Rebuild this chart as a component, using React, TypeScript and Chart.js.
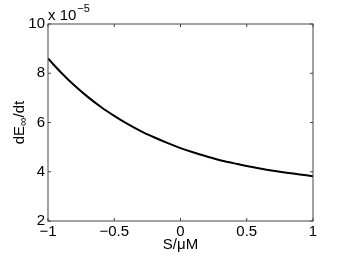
import React, { useEffect, useRef } from 'react';
import { Chart, registerables } from 'chart.js';

Chart.register(...registerables);

const xValues = [-1, -0.9, -0.8, -0.7, -0.6, -0.5, -0.4, -0.3, -0.2, -0.1, 0, 0.1, 0.2, 0.3, 0.4, 0.5, 0.6, 0.7, 0.8, 0.9, 1];
const yValues = [8.6, 8.02, 7.5, 7.04, 6.63, 6.27, 5.94, 5.65, 5.4, 5.17, 4.96, 4.78, 4.62, 4.47, 4.35, 4.23, 4.13, 4.04, 3.96, 3.89, 3.82];
const xTicks = [-1, -0.5, 0, 0.5, 1];
const yTicks = [2, 4, 6, 8, 10];
const xTitle = 'S/\u03bcM';
const yTitleMain = 'dE';
const yTitleSub = '\u221e';
const yTitleEnd = '/dt';
const exponentBase = 'x 10';
const exponentPower = '\u22125';

const FONT = '"Liberation Sans", Arial, Helvetica, sans-serif';

const fmt = (v: number) => (v < 0 ? '\u2212' + String(Math.abs(v)) : String(v));

const decor = {
  id: 'decor',
  afterDraw(chart: any) {
    const { ctx, chartArea: a, scales } = chart;
    ctx.save();
    ctx.strokeStyle = '#444';
    ctx.lineWidth = 1;
    ctx.strokeRect(a.left, a.top, a.right - a.left, a.bottom - a.top);
    const tl = 3;
    ctx.beginPath();
    xTicks.forEach((v) => {
      const px = scales.x.getPixelForValue(v);
      ctx.moveTo(px, a.bottom);
      ctx.lineTo(px, a.bottom - tl);
      ctx.moveTo(px, a.top);
      ctx.lineTo(px, a.top + tl);
    });
    yTicks.forEach((v) => {
      const py = scales.y.getPixelForValue(v);
      ctx.moveTo(a.left, py);
      ctx.lineTo(a.left + tl, py);
      ctx.moveTo(a.right, py);
      ctx.lineTo(a.right - tl, py);
    });
    ctx.stroke();

    ctx.fillStyle = '#000';
    ctx.font = `15px ${FONT}`;
    ctx.textAlign = 'center';
    ctx.textBaseline = 'alphabetic';
    ctx.fillText(xTitle, (a.left + a.right) / 2, 249);

    ctx.textAlign = 'left';
    ctx.fillText(exponentBase, a.left, 20);
    const wb = ctx.measureText(exponentBase).width;
    ctx.font = `11px ${FONT}`;
    ctx.fillText(exponentPower, a.left + wb + 1, 12);

    ctx.translate(24, (a.top + a.bottom) / 2);
    ctx.rotate(-Math.PI / 2);
    ctx.font = `15px ${FONT}`;
    const w0 = ctx.measureText(yTitleMain).width;
    const w2 = ctx.measureText(yTitleEnd).width;
    ctx.font = `12px ${FONT}`;
    const w1 = ctx.measureText(yTitleSub).width;
    let x0 = -(w0 + w1 + w2) / 2;
    ctx.font = `15px ${FONT}`;
    ctx.fillText(yTitleMain, x0, 0);
    x0 += w0;
    ctx.font = `12px ${FONT}`;
    ctx.fillText(yTitleSub, x0, 3);
    x0 += w1;
    ctx.font = `15px ${FONT}`;
    ctx.fillText(yTitleEnd, x0, 0);
    ctx.restore();
  },
};

export default function App() {
  const ref = useRef<HTMLCanvasElement>(null);
  useEffect(() => {
    if (!ref.current) return;
    const chart = new Chart(ref.current, {
      type: 'line',
      data: {
        datasets: [
          {
            data: xValues.map((x, i) => ({ x, y: yValues[i] })),
            borderColor: '#000',
            borderWidth: 2,
            pointRadius: 0,
            tension: 0.3,
            fill: false,
          },
        ],
      },
      options: {
        animation: false,
        responsive: false,
        layout: { padding: { top: 24, right: 33, left: 0, bottom: 0 } },
        plugins: { legend: { display: false }, tooltip: { enabled: false }, title: { display: false } },
        scales: {
          x: {
            type: 'linear',
            min: -1,
            max: 1,
            afterFit: (s: any) => {
              s.height = 40;
            },
            afterBuildTicks: (s: any) => {
              s.ticks = xTicks.map((v) => ({ value: v }));
            },
            grid: { display: false, drawTicks: false },
            border: { display: false },
            ticks: {
              padding: 2,
              color: '#000',
              font: { family: FONT, size: 15 },
              maxRotation: 0,
              autoSkip: false,
              callback: (v: any) => fmt(Number(v)),
            },
          },
          y: {
            type: 'linear',
            min: 2,
            max: 10,
            afterFit: (s: any) => {
              s.width = 48;
            },
            afterBuildTicks: (s: any) => {
              s.ticks = yTicks.map((v) => ({ value: v }));
            },
            grid: { display: false, drawTicks: false },
            border: { display: false },
            ticks: {
              padding: 3,
              color: '#000',
              font: { family: FONT, size: 15 },
              autoSkip: false,
              callback: (v: any) => fmt(Number(v)),
            },
          },
        },
      },
      plugins: [decor],
    });
    return () => chart.destroy();
  }, []);
  return (
    <div style={{ position: 'fixed', left: 0, top: 0, width: 346, height: 261, background: '#fff' }}>
      <canvas ref={ref} width={346} height={261} style={{ width: 346, height: 261 }} />
    </div>
  );
}
